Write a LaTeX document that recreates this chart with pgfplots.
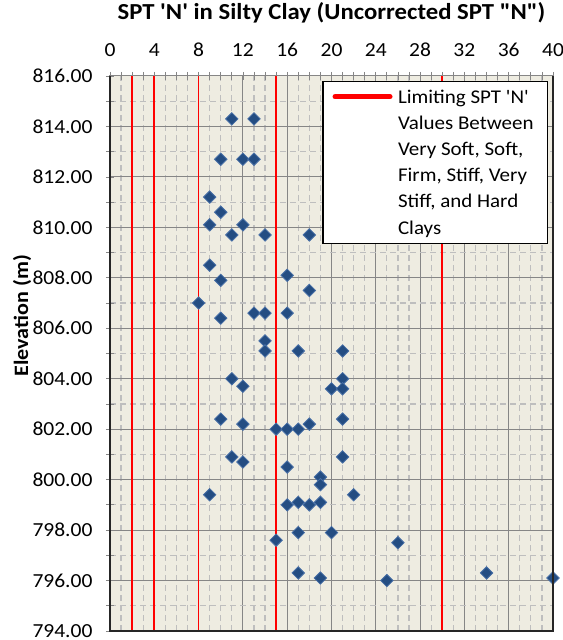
\documentclass[border=0pt]{standalone}
\usepackage{pgfplots}
\pgfplotsset{compat=1.18}
\usepackage{fontspec}
\setmainfont{Carlito}[Ligatures=TeXOff, FakeStretch=1.08]
\definecolor{bgc}{RGB}{238,236,225}
\definecolor{mfill}{RGB}{36,77,130}
\definecolor{mdraw}{RGB}{70,110,165}
\definecolor{majg}{RGB}{134,134,134}
\definecolor{ming}{RGB}{190,190,190}
\begin{document}
\begin{tikzpicture}
\begin{axis}[
  name=ax,
  scale only axis,
  width=443bp, height=555bp,
  xmin=0, xmax=40, ymin=794, ymax=816,
  axis background/.style={fill=bgc},
  xtick={0,4,...,40}, minor x tick num=3,
  ytick={794,796,...,816}, minor y tick num=1,
  xtick pos=right, xticklabel pos=right, ytick pos=left,
  tick align=center,
  major tick length=8bp, minor tick length=8bp,
  every tick/.style={majg, line width=0.8bp},
  grid=both,
  major grid style={majg, line width=1bp},
  minor grid style={ming, line width=1.2bp, dash pattern=on 6bp off 4bp},
  axis line style={majg, line width=1bp},
  /pgf/number format/assume math mode=true,
  ticklabel style={font=\fontsize{20}{24}\selectfont},
  y tick label style={/pgf/number format/fixed, /pgf/number format/fixed zerofill, /pgf/number format/precision=2, /pgf/number format/1000 sep={}},
  xticklabel style={anchor=base, yshift=15bp},
  yticklabel style={anchor=east, xshift=-10bp},
  title={SPT 'N' in Silty Clay (Uncorrected SPT "N")},
  title style={at={(rel axis cs:0.5,1)}, anchor=base, yshift=50.5bp, font=\bfseries\fontsize{23}{27}\selectfont},
  ylabel={Elevation (m)},
  ylabel style={at={(rel axis cs:-0.1986,0.568)}, anchor=center, font=\bfseries\fontsize{20.5}{24}\selectfont},
  legend style={at={(rel axis cs:0.989,0.991)}, anchor=north east, draw=black, line width=1.2bp, fill=white,
    font=\fontsize{19.5}{26.3}\selectfont, cells={align=left}, inner xsep=12bp, inner ysep=6bp},
  legend image code/.code={\draw[overlay, red, line width=5bp, line cap=round] (0bp,65.75bp) -- (55bp,65.75bp); \path[draw=none] (0bp,0bp) -- (61bp,0bp);},
]
\addplot[red, line width=1.7bp] coordinates {(2,794) (2,816)};
\addlegendentry{Limiting SPT 'N'\\Values Between\\Very Soft, Soft,\\Firm, Stiff, Very\\Stiff, and Hard\\Clays}
\addplot[red, line width=1.7bp, forget plot] coordinates {(4,794) (4,816)};
\addplot[red, line width=1.7bp, forget plot] coordinates {(8,794) (8,816)};
\addplot[red, line width=1.7bp, forget plot] coordinates {(15,794) (15,816)};
\addplot[red, line width=1.7bp, forget plot] coordinates {(30,794) (30,816)};
\addplot[only marks, forget plot, mark=square*, mark size=4.4bp,
  mark options={rotate=45, fill=mfill, draw=mdraw, line width=0.8bp}] table {
x y
11 814.3
13 814.3
10 812.7
12 812.7
13 812.7
9 811.2
10 810.6
9 810.1
12 810.1
11 809.7
14 809.7
18 809.7
9 808.5
16 808.1
10 807.9
18 807.5
8 807.0
13 806.6
14 806.6
16 806.6
10 806.4
14 805.5
14 805.1
17 805.1
21 805.1
11 804.0
21 804.0
12 803.7
20 803.6
21 803.6
10 802.4
21 802.4
12 802.2
18 802.2
15 802.0
16 802.0
17 802.0
11 800.9
21 800.9
12 800.7
16 800.5
19 800.1
19 799.8
9 799.4
22 799.4
16 799.0
17 799.1
18 799.0
19 799.1
17 797.9
20 797.9
15 797.6
26 797.5
17 796.3
34 796.3
19 796.1
40 796.1
25 796.0
};
\end{axis}
\draw[black!85, line width=2.4bp] (ax.north west) -- (ax.south west) -- (ax.south east) -- (ax.north east);
\pgfresetboundingbox
\path[use as bounding box] ([xshift=-110bp,yshift=-9bp]ax.south west) rectangle ([xshift=10bp,yshift=76bp]ax.north east);
\end{tikzpicture}
\end{document}
